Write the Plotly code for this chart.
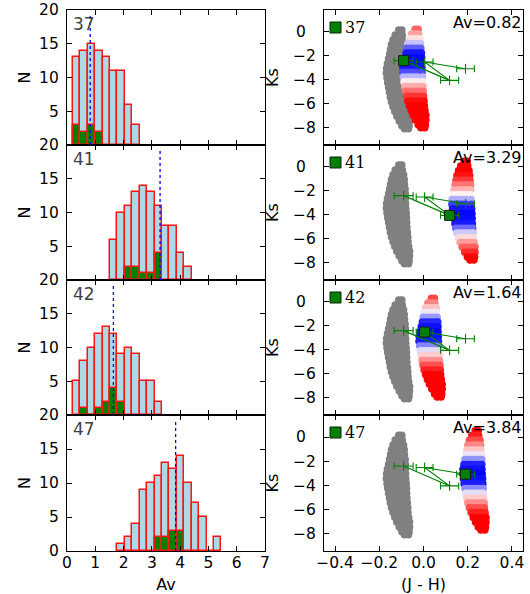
import plotly.graph_objects as go

# ---------------- data ----------------
sources = ["37", "41", "42", "47"]
av_values = [0.82, 3.29, 1.64, 3.84]

# histogram of Av (common bins)
bin_start = 0.21
bin_width = 0.2625
hist_all_first_bin = [0, 5, 0, 6]
hist_all_counts = [
    [13, 14, 15, 14, 13, 11, 11, 6, 3],
    [6, 10, 11, 13, 14, 13, 11, 8, 8, 4, 2],
    [5, 8, 10, 12, 13, 12, 9, 10, 9, 5, 5, 2],
    [1, 2, 4, 9, 10, 11, 13, 12, 14, 10, 7, 5, 0, 2],
]
hist_sel_first_bin = [0, 7, 1, 11]
hist_sel_counts = [
    [3, 2, 3, 2],
    [2, 2, 1, 1, 4],
    [1, 0, 1, 2, 4, 2],
    [2, 2, 3, 3],
]

# source colours / magnitudes (track)
src_jh = [-0.090, 0.118, 0.005, 0.190]
src_jh_err = [0.043, 0.041, 0.038, 0.040]
src_ks = [-2.40, -4.05, -2.52, -3.08]

# intrinsic (unreddened) model cloud, read row by row
cloud_ks_rows = [0.15, -0.25, -0.65, -1.05, -1.45, -1.85, -2.25, -2.65, -3.05, -3.45,
                 -3.85, -4.25, -4.65, -5.05, -5.45, -5.85, -6.25, -6.65, -7.05, -7.45,
                 -7.85, -8.10]
cloud_jh_rows = [
    [-0.112, -0.098],
    [-0.128, -0.112, -0.096],
    [-0.138, -0.122, -0.106, -0.090],
    [-0.145, -0.129, -0.113, -0.097, -0.087],
    [-0.149, -0.133, -0.117, -0.101, -0.086],
    [-0.153, -0.137, -0.121, -0.105, -0.089, -0.083],
    [-0.158, -0.142, -0.126, -0.110, -0.094, -0.082],
    [-0.163, -0.147, -0.131, -0.115, -0.099, -0.082],
    [-0.167, -0.151, -0.135, -0.119, -0.103, -0.081],
    [-0.168, -0.152, -0.136, -0.120, -0.104, -0.080],
    [-0.165, -0.149, -0.133, -0.117, -0.101, -0.078],
    [-0.162, -0.146, -0.130, -0.114, -0.098, -0.077],
    [-0.158, -0.142, -0.126, -0.110, -0.094, -0.076],
    [-0.154, -0.138, -0.122, -0.106, -0.090, -0.075],
    [-0.150, -0.134, -0.118, -0.102, -0.086, -0.073],
    [-0.145, -0.129, -0.113, -0.097, -0.081, -0.071],
    [-0.138, -0.122, -0.106, -0.090, -0.070],
    [-0.130, -0.114, -0.098, -0.082, -0.067],
    [-0.121, -0.105, -0.089, -0.073, -0.063],
    [-0.110, -0.094, -0.078, -0.063],
    [-0.098, -0.082, -0.065],
    [-0.086, -0.068],
]

# reddening per magnitude of Av
ejh_per_av = 0.09
aks_per_av = 0.10

# ---------------- layout constants ----------------
W, H = 530, 594
panel_tops = [10, 145, 280, 415]
panel_bots = [145, 280, 415, 551]
left_x = (67, 265)
right_x = (324, 523)
FONT = "DejaVu Sans"

cloud_jh = [v for row in cloud_jh_rows for v in row]
cloud_ks = [k for k, row in zip(cloud_ks_rows, cloud_jh_rows) for _ in row]

colorscale = [
    [0.0, "rgb(0,0,255)"],
    [0.23, "rgb(30,30,255)"],
    [0.37, "rgb(170,170,255)"],
    [0.49, "rgb(255,245,245)"],
    [0.66, "rgb(255,150,150)"],
    [0.83, "rgb(255,60,60)"],
    [1.0, "rgb(255,0,0)"],
]
dist_max = 3.5


def axname(letter, n):
    return letter if n == 1 else f"{letter}{n}"


fig = go.Figure()
shapes = []
annotations = []

axis_common = dict(
    showline=True, linecolor="black", linewidth=1.2, mirror="ticks",
    ticks="inside", ticklen=5, tickwidth=1, tickcolor="black",
    showgrid=False, zeroline=False, automargin=False, ticklabeloverflow="allow",
    tickfont=dict(family=FONT, size=15.5, color="black"),
)

for i, src in enumerate(sources):
    nl, nr = 2 * i + 1, 2 * i + 2
    xl, yl = axname("x", nl), axname("y", nl)
    xr, yr = axname("x", nr), axname("y", nr)
    ydom = [1 - panel_bots[i] / H, 1 - panel_tops[i] / H]
    bottom = i == len(sources) - 1

    # ---- histogram ----
    c_all = [bin_start + bin_width * (hist_all_first_bin[i] + k + 0.5)
             for k in range(len(hist_all_counts[i]))]
    c_sel = [bin_start + bin_width * (hist_sel_first_bin[i] + k + 0.5)
             for k in range(len(hist_sel_counts[i]))]
    fig.add_trace(go.Bar(x=c_all, y=hist_all_counts[i], width=bin_width,
                         marker=dict(color="lightblue", line=dict(color="rgb(255,20,20)", width=1.5)),
                         xaxis=xl, yaxis=yl, showlegend=False))
    fig.add_trace(go.Bar(x=c_sel, y=hist_sel_counts[i], width=bin_width,
                         marker=dict(color="green", line=dict(color="rgb(255,20,20)", width=1.5)),
                         xaxis=xl, yaxis=yl, showlegend=False))
    shapes.append(dict(type="line", xref=xl, yref=f"{yl} domain", x0=av_values[i], x1=av_values[i],
                       y0=0, y1=0.97, line=dict(color="blue", width=1.3, dash="dot"), layer="above"))
    annotations.append(dict(text=src, xref=f"{xl} domain", yref=f"{yl} domain", x=0, y=1,
                            xanchor="left", yanchor="top", xshift=4, yshift=-2, showarrow=False,
                            font=dict(family=FONT, size=17, color="#404040")))

    # ---- colour-magnitude panel ----
    av = av_values[i]
    red_jh = [v + ejh_per_av * av for v in cloud_jh]
    red_ks = [k + aks_per_av * av for k in cloud_ks]
    dist = [abs(k - src_ks[i]) for k in red_ks]
    fig.add_trace(go.Scatter(x=cloud_jh, y=cloud_ks, mode="markers",
                             marker=dict(color="rgb(128,128,128)", size=7.5, line=dict(width=0)),
                             xaxis=xr, yaxis=yr, showlegend=False))
    fig.add_trace(go.Scatter(x=red_jh, y=red_ks, mode="markers",
                             marker=dict(color=dist, colorscale=colorscale, cmin=0, cmax=dist_max,
                                         size=7.5, line=dict(width=0), showscale=False),
                             xaxis=xr, yaxis=yr, showlegend=False))
    fig.add_trace(go.Scatter(x=src_jh, y=src_ks, mode="lines+markers",
                             line=dict(color="green", width=1.1),
                             marker=dict(symbol="line-ns", size=7, color="green",
                                         line=dict(color="green", width=1.1)),
                             error_x=dict(type="data", array=src_jh_err, color="green",
                                          thickness=1.1, width=3.5),
                             xaxis=xr, yaxis=yr, showlegend=False))
    fig.add_trace(go.Scatter(x=[src_jh[i]], y=[src_ks[i]], mode="markers",
                             marker=dict(symbol="square", size=10, color="green",
                                         line=dict(color="#102010", width=1)),
                             xaxis=xr, yaxis=yr, showlegend=False))
    pw = right_x[1] - right_x[0]
    ph = panel_bots[i] - panel_tops[i]
    shapes.append(dict(type="rect", xref=f"{xr} domain", yref=f"{yr} domain",
                       x0=6 / pw, x1=17 / pw, y0=1 - 23 / ph, y1=1 - 12 / ph,
                       fillcolor="green", line=dict(color="#102010", width=1), layer="above"))
    annotations.append(dict(text=src, xref=f"{xr} domain", yref=f"{yr} domain",
                            x=19 / pw, y=1 - 17.5 / ph, xanchor="left", yanchor="middle",
                            showarrow=False, font=dict(family="DejaVu Serif", size=16, color="black")))
    annotations.append(dict(text=f"Av={av:.2f}", xref=f"{xr} domain", yref=f"{yr} domain",
                            x=1, y=1, xanchor="right", yanchor="top", yshift=-1, xshift=1,
                            showarrow=False, font=dict(family=FONT, size=16, color="black")))

    # axes
    lx = dict(axis_common, domain=[left_x[0] / W, left_x[1] / W], anchor=yl,
              range=[0, 7], tickvals=list(range(8)), showticklabels=bottom,
              ticklabelstandoff=-3)
    ly = dict(axis_common, domain=ydom, anchor=xl, range=[0, 20],
              tickvals=[0, 5, 10, 15, 20],
              ticktext=["0" if bottom else "", "5", "10", "15", "20"],
              ticklabelstandoff=4,
              title=dict(text="N", standoff=4, font=dict(family=FONT, size=16, color="black")))
    rx = dict(axis_common, domain=[right_x[0] / W, right_x[1] / W], anchor=yr,
              range=[-0.45, 0.45], tickvals=[-0.4, -0.2, 0.0, 0.2, 0.4],
              ticktext=["\u22120.4", "\u22120.2", "0.0", "0.2", "0.4"],
              showticklabels=bottom, ticklabelstandoff=-3)
    ry = dict(axis_common, domain=ydom, anchor=xr, range=[-9.45, 1.83],
              tickvals=[-8, -6, -4, -2, 0],
              ticktext=["\u22128", "\u22126", "\u22124", "\u22122", "0\u2007"],
              ticklabelstandoff=4,
              title=dict(text="Ks", standoff=10, font=dict(family=FONT, size=16, color="black")))
    if bottom:
        lx["title"] = dict(text="Av", standoff=18, font=dict(family=FONT, size=16, color="black"))
        rx["title"] = dict(text="(J - H)", standoff=18, font=dict(family=FONT, size=16, color="black"))
    fig.layout[axname("xaxis", nl)] = lx
    fig.layout[axname("yaxis", nl)] = ly
    fig.layout[axname("xaxis", nr)] = rx
    fig.layout[axname("yaxis", nr)] = ry

fig.update_layout(
    width=W, height=H, margin=dict(l=0, r=0, t=0, b=0),
    paper_bgcolor="white", plot_bgcolor="white",
    barmode="overlay", bargap=0, showlegend=False,
    shapes=shapes, annotations=annotations,
    font=dict(family=FONT, size=15, color="black"),
)

# remove the browser's default 8px page margin so the figure fills the window
fig.write_html("out.html", config={"displayModeBar": False},
               post_script="document.body.style.margin='0px';")
